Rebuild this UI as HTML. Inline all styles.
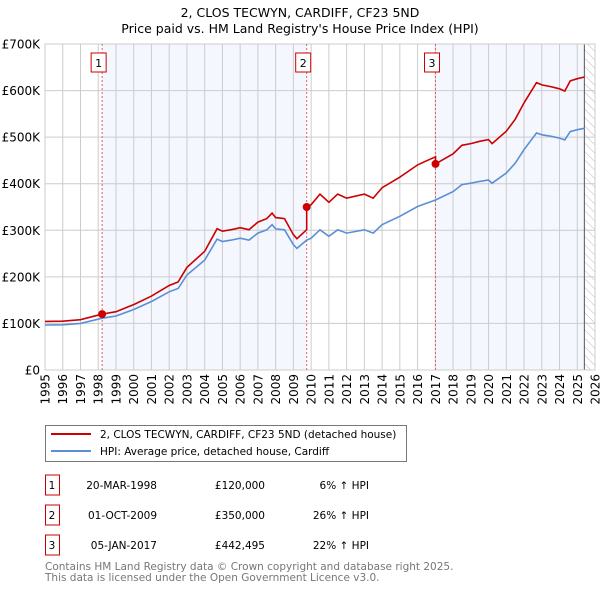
<!DOCTYPE html>
<html><head><meta charset="utf-8">
<style>
body{margin:0;background:#fff;font-family:"DejaVu Sans","Liberation Sans",sans-serif;}
svg text{font-family:"DejaVu Sans","Liberation Sans",sans-serif;}
</style></head>
<body>
<svg id="chart" width="600" height="590" viewBox="0 0 600 590" xmlns="http://www.w3.org/2000/svg">
<defs>
<pattern id="hatch" width="6" height="6" patternUnits="userSpaceOnUse" patternTransform="rotate(-45)">
<line x1="0" y1="0" x2="0" y2="6" stroke="#bbb" stroke-width="1"/>
</pattern>
</defs>
<text x="300" y="17" font-size="12.5" text-anchor="middle">2, CLOS TECWYN, CARDIFF, CF23 5ND</text>
<text x="300" y="33" font-size="12.5" text-anchor="middle">Price paid vs. HM Land Registry's House Price Index (HPI)</text>
<g id="plot"></g>
<g>
<rect x="45.5" y="425.5" width="361" height="36" fill="#fff" stroke="#777"/>
<line x1="51" y1="434" x2="91" y2="434" stroke="#cc0000" stroke-width="2"/>
<text x="100" y="438" font-size="10.5">2, CLOS TECWYN, CARDIFF, CF23 5ND (detached house)</text>
<line x1="51" y1="451" x2="91" y2="451" stroke="#5b8fd4" stroke-width="2"/>
<text x="100" y="455" font-size="10.5">HPI: Average price, detached house, Cardiff</text>
</g>
<g id="table" font-size="10.5"></g>
<text x="45" y="570" font-size="10.5" fill="#777">Contains HM Land Registry data © Crown copyright and database right 2025.</text>
<text x="45" y="581" font-size="10.5" fill="#777">This data is licensed under the Open Government Licence v3.0.</text>
</svg>
<script>
const hpiYears=[1995,1996,1997,1998.2,1999,2000,2001,2002,2002.5,2003,2004,2004.7,2005,2005.5,2006,2006.5,2007,2007.5,2007.8,2008,2008.5,2009,2009.2,2009.75,2010,2010.5,2011,2011.5,2012,2013,2013.5,2014,2015,2016,2016.5,2017.01,2018,2018.5,2019,2019.5,2020,2020.2,2021,2021.5,2022,2022.7,2023,2023.5,2024,2024.3,2024.6,2025,2025.4];
const hpiValues=[96.7,97,100,111,116,130,147,168,175,204,236,281,276,279,283,279,294,301,312,303,301,269,261,279,283,301,287,301,294,301,294,312,330,351,358,365,383,398,401,405,408,401,423,444,473,509,505,502,498,494,512,516,519];
const saleYears=[1998.22,2009.75,2017.01];
const salePrices=[120,350,442.495];
const saleLabels=["1","2","3"];
const saleDates=["20-MAR-1998","01-OCT-2009","05-JAN-2017"];
const salePriceText=["£120,000","£350,000","£442,495"];
const saleHpiText=["6% \u2191 HPI","26% \u2191 HPI","22% \u2191 HPI"];
const yTicks=[0,100,200,300,400,500,600,700];
const yTickLabels=["£0","£100K","£200K","£300K","£400K","£500K","£600K","£700K"];
const xTicks=[1995,1996,1997,1998,1999,2000,2001,2002,2003,2004,2005,2006,2007,2008,2009,2010,2011,2012,2013,2014,2015,2016,2017,2018,2019,2020,2021,2022,2023,2024,2025,2026];
const dataEnd=2025.4;

const L=45,R=595,T=44,B=370,X0=1995,X1=2026;
const sx=v=>L+(v-X0)/(X1-X0)*(R-L);
const sy=v=>B-v/700*(B-T);
const NS="http://www.w3.org/2000/svg";
const plot=document.getElementById('plot');
function mk(tag,attrs,parent){const e=document.createElementNS(NS,tag);for(const k in attrs)e.setAttribute(k,attrs[k]);(parent||plot).appendChild(e);return e;}
function hpiAt(t){if(t<=hpiYears[0])return hpiValues[0];for(let i=1;i<hpiYears.length;i++){if(t<=hpiYears[i]){const f=(t-hpiYears[i-1])/(hpiYears[i]-hpiYears[i-1]);return hpiValues[i-1]+f*(hpiValues[i]-hpiValues[i-1]);}}return hpiValues[hpiValues.length-1];}

const sh1=mk('rect',{x:sx(saleYears[0]),y:T,width:sx(saleYears[1])-sx(saleYears[0]),height:B-T,fill:'#f4f7fe'});


const sh2=mk('rect',{x:sx(saleYears[2]),y:T,width:sx(dataEnd)-sx(saleYears[2]),height:B-T,fill:'#f4f7fe'});


const ht=mk('rect',{x:sx(dataEnd),y:T,width:R-sx(dataEnd),height:B-T,fill:'url(#hatch)'});


xTicks.forEach((v,i)=>{
 const g=mk('line',{x1:sx(v),x2:sx(v),y1:T,y2:B,stroke:'#cccccc','stroke-width':1});
 
 
 const tx=mk('text',{x:0,y:0,'font-size':12,'text-anchor':'end',transform:`translate(${sx(v)+4.5},374) rotate(-90)`});
 tx.textContent=String(v);
 
 
});
yTicks.forEach((v,i)=>{
 const g=mk('line',{x1:L,x2:R,y1:sy(v),y2:sy(v),stroke:'#cccccc','stroke-width':1});
 
 
 const tx=mk('text',{x:40,y:sy(v)+4.5,'font-size':12,'text-anchor':'end'});
 tx.textContent=yTickLabels[i];
 
 
});
const ed=mk('line',{x1:sx(dataEnd),x2:sx(dataEnd),y1:T,y2:B,stroke:'#555','stroke-width':1});


const fr=mk('rect',{x:L,y:T,width:R-L,height:B-T,fill:'none',stroke:'#cccccc'});


saleYears.forEach((s,i)=>{
 const l=mk('line',{x1:sx(s),x2:sx(s),y1:T,y2:B,stroke:'#e06060','stroke-width':1,'stroke-dasharray':'2,2'});
 
 
 const bx=mk('rect',{x:sx(s)-11,y:53,width:15,height:19,fill:'#fff',stroke:'#cc0000'});
 
 
 const t=mk('text',{x:sx(s)-3.5,y:67,'font-size':11,'text-anchor':'middle'});
 t.textContent=saleLabels[i];
 
 
});
let d='';
hpiYears.forEach((t,i)=>{d+=(i?'L':'M')+sx(t).toFixed(1)+' '+sy(hpiValues[i]).toFixed(1);});
const hl=mk('path',{d:d,fill:'none',stroke:'#5b8fd4','stroke-width':1.6});


function seg(t){let k=0;for(let i=0;i<saleYears.length;i++)if(t>=saleYears[i])k=i;return k;}
let pd='';let first=true;
const pts=hpiYears.slice();
saleYears.forEach(s=>{pts.push(s);pts.push(s-0.0001);});
pts.sort((a,b)=>a-b);
pts.forEach(t=>{const k=seg(t);const v=salePrices[k]*hpiAt(t)/hpiAt(saleYears[k]);pd+=(first?'M':'L')+sx(t).toFixed(1)+' '+sy(v).toFixed(1);first=false;});
const pl=mk('path',{d:pd,fill:'none',stroke:'#cc0000','stroke-width':1.6});


saleYears.forEach((s,i)=>{
 const c=mk('circle',{cx:sx(s),cy:sy(salePrices[i]),r:4,fill:'#cc0000'});
 
 
});
const tb=document.getElementById('table');
const rowY=[485,515,545];
saleYears.forEach((s,i)=>{
 const y=rowY[i];
 const b=mk('rect',{x:45.5,y:y-10,width:14,height:20,fill:'#fff',stroke:'#cc0000'},tb);
 
 
 const cells=[[52,'middle',saleLabels[i]],[157,'end',saleDates[i]],[265,'end',salePriceText[i]],[369,'end',saleHpiText[i]]];
 cells.forEach(c=>{
  const t=mk('text',{x:c[0],y:y+4,'text-anchor':c[1]},tb);
  t.textContent=c[2];
  
  
 });
});
</script>
</body></html>
